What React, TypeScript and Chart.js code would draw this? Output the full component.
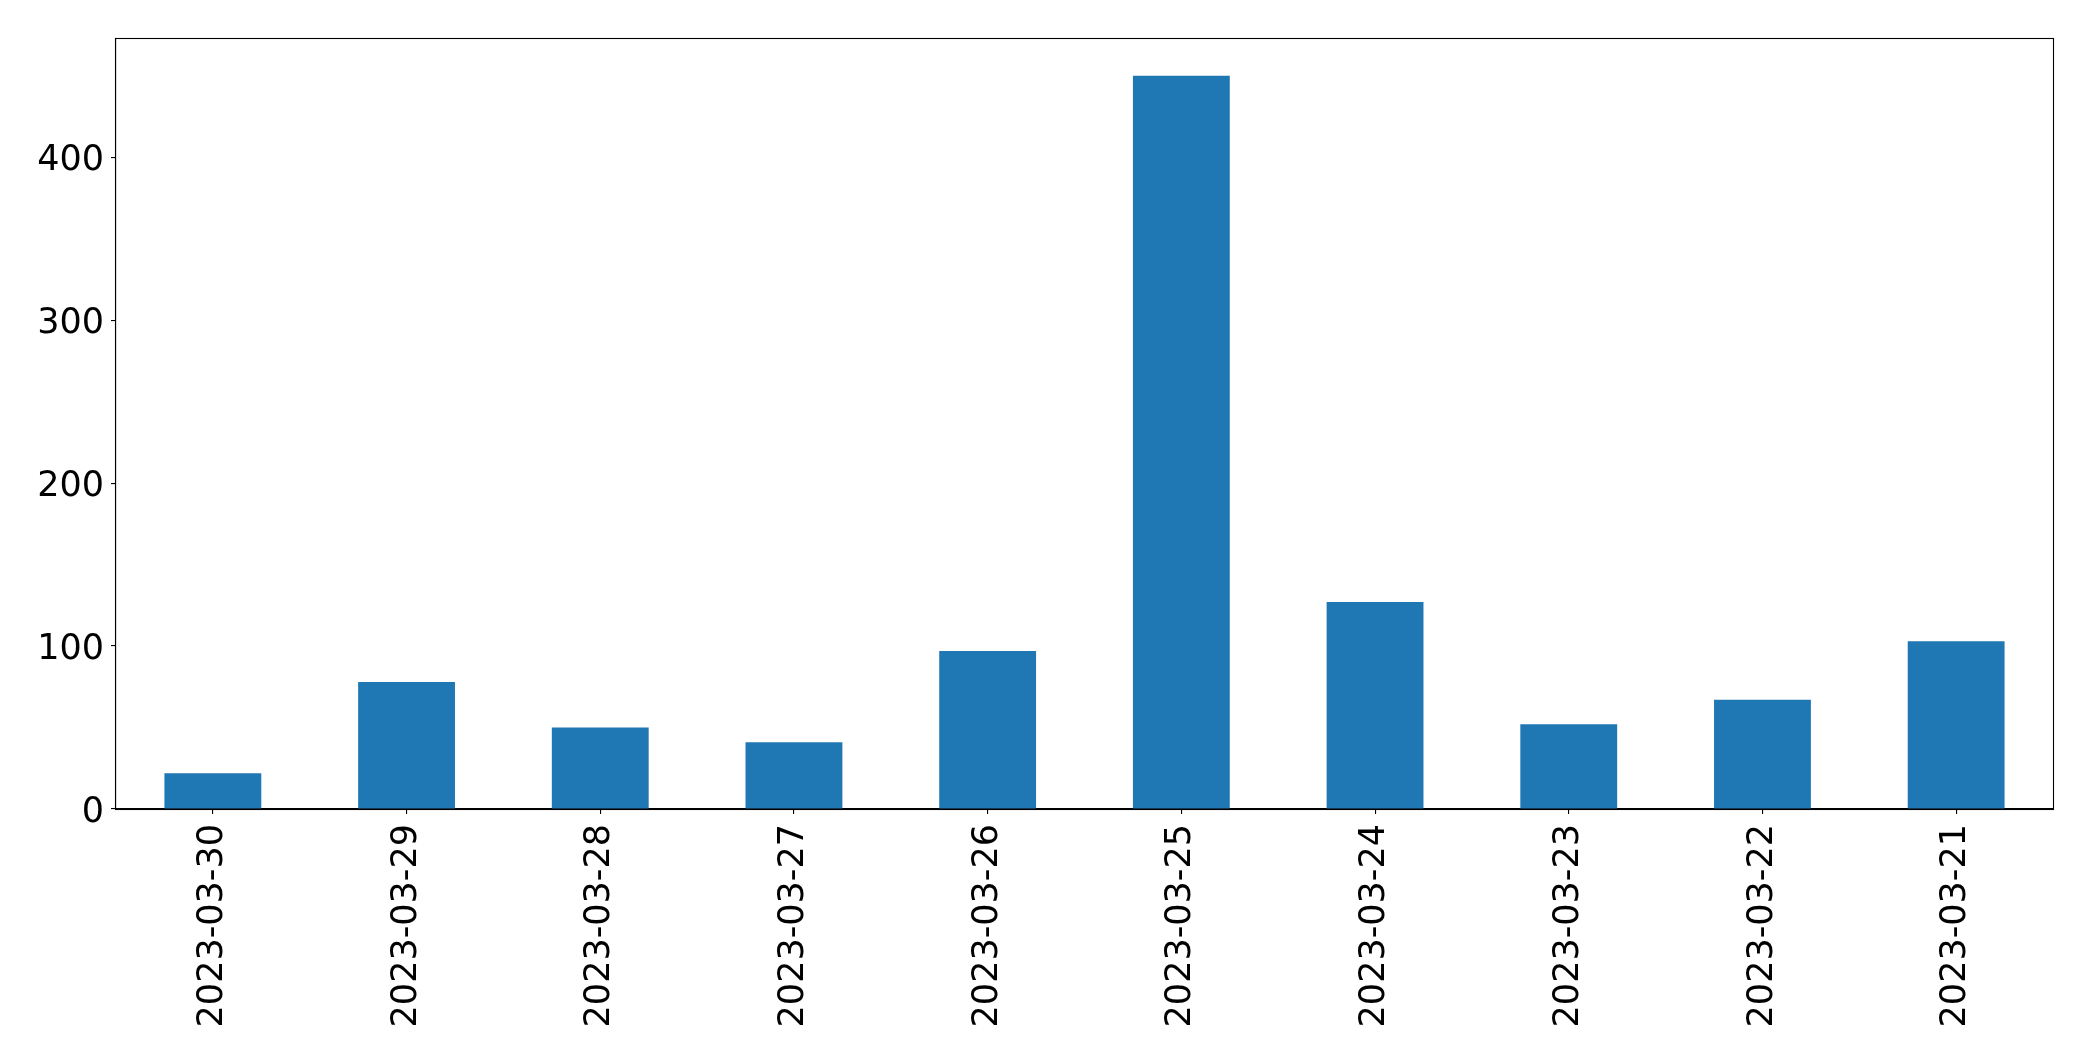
import React, { useEffect, useRef } from "react";
import { Chart, registerables } from "chart.js";

Chart.register(...registerables);

const categories = [
  "2023-03-30", "2023-03-29", "2023-03-28", "2023-03-27", "2023-03-26",
  "2023-03-25", "2023-03-24", "2023-03-23", "2023-03-22", "2023-03-21",
];
const values = [22, 78, 50, 41, 97, 450, 127, 52, 67, 103];
const yTicks = [0, 100, 200, 300, 400];

const W = 2093;
const H = 1061;
const PLOT_LEFT = 116;
const PLOT_TOP = 39;
const PLOT_RIGHT = 2053;
const PLOT_BOTTOM = 809;

const frame = {
  id: "frame",
  afterDraw(chart: any) {
    const { ctx, chartArea } = chart;
    ctx.save();
    ctx.strokeStyle = "#000";
    ctx.lineWidth = 1.1;
    ctx.strokeRect(
      Math.round(chartArea.left) - 0.5,
      Math.round(chartArea.top) - 0.5,
      Math.round(chartArea.right - chartArea.left) + 1,
      Math.round(chartArea.bottom - chartArea.top) + 1
    );
    ctx.restore();
  },
};

export default function App() {
  const ref = useRef<HTMLCanvasElement | null>(null);
  useEffect(() => {
    document.body.style.margin = "0";
    const maxVal = Math.max(...values) * 1.05;
    const chart = new Chart(ref.current!, {
      type: "bar",
      data: {
        labels: categories,
        datasets: [
          {
            data: values,
            backgroundColor: "#1f77b4",
            barPercentage: 0.5,
            categoryPercentage: 1,
          },
        ],
      },
      options: {
        animation: false,
        responsive: false,
        maintainAspectRatio: false,
        layout: {
          padding: { left: 0, top: PLOT_TOP, right: W - PLOT_RIGHT, bottom: 0 },
        },
        plugins: { legend: { display: false }, tooltip: { enabled: false } },
        scales: {
          x: {
            offset: true,
            grid: {
              drawOnChartArea: false,
              drawTicks: true,
              tickLength: 5,
              color: "#000",
              lineWidth: 1.1,
              offset: false,
            },
            border: { display: true, color: "#000", width: 1.1 },
            ticks: {
              color: "#000",
              font: { family: "DejaVu Sans", size: 35 },
              minRotation: 90,
              maxRotation: 90,
              padding: 10,
              autoSkip: false,
            },
            afterFit: (s: any) => {
              s.height = H - PLOT_BOTTOM;
            },
          },
          y: {
            min: 0,
            max: maxVal,
            grid: {
              drawOnChartArea: false,
              drawTicks: true,
              tickLength: 5,
              color: "#000",
              lineWidth: 1.1,
            },
            border: { display: true, color: "#000", width: 1.1 },
            ticks: {
              color: "#000",
              font: { family: "DejaVu Sans", size: 35 },
              padding: 7,
              labelOffset: 4,
            },
            afterBuildTicks: (s: any) => {
              s.ticks = yTicks.map((v) => ({ value: v }));
            },
            afterFit: (s: any) => {
              s.width = PLOT_LEFT;
            },
          },
        },
      },
      plugins: [frame],
    });
    return () => chart.destroy();
  }, []);
  return (
    <div style={{ position: "absolute", left: 0, top: 0, width: W, height: H, background: "#fff" }}>
      <canvas ref={ref} width={W} height={H} style={{ width: W, height: H }} />
    </div>
  );
}
